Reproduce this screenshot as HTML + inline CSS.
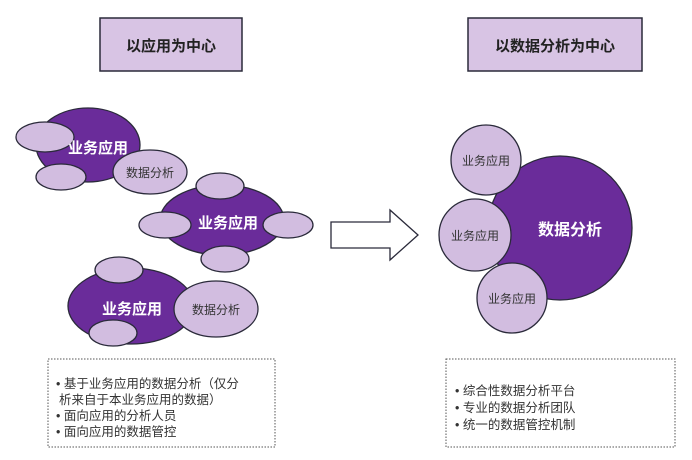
<!DOCTYPE html>
<html><head><meta charset="utf-8"><style>
body{margin:0;background:#fff;}
svg{display:block;font-family:"Liberation Sans","Noto Sans CJK SC",sans-serif;}
</style></head><body>
<svg width="692" height="460" viewBox="0 0 692 460">
<g stroke="#2a2a3a" stroke-width="1.5">
<rect x="100" y="18" width="142" height="53" fill="#d8c4e4"/>
<rect x="468" y="18" width="174" height="53" fill="#d8c4e4"/>
</g>
<text x="171" y="51" font-size="15" font-weight="bold" text-anchor="middle" fill="#222">以应用为中心</text>
<text x="555" y="51" font-size="15" font-weight="bold" text-anchor="middle" fill="#222">以数据分析为中心</text>
<g stroke="#2a2a3a" stroke-width="1.3">
<ellipse cx="88" cy="145" rx="52" ry="37" fill="#6a2c9a"/>
<ellipse cx="45" cy="137" rx="29" ry="15" fill="#d2bde0"/>
<ellipse cx="61" cy="177" rx="25" ry="13" fill="#d2bde0"/>
<ellipse cx="150" cy="172" rx="37" ry="22" fill="#d2bde0"/>
<ellipse cx="222" cy="220" rx="62" ry="35" fill="#6a2c9a"/>
<ellipse cx="220" cy="186" rx="24" ry="13" fill="#d2bde0"/>
<ellipse cx="165" cy="225" rx="26" ry="13" fill="#d2bde0"/>
<ellipse cx="288" cy="225" rx="25" ry="13" fill="#d2bde0"/>
<ellipse cx="225" cy="259" rx="24" ry="13" fill="#d2bde0"/>
<ellipse cx="131" cy="306" rx="63" ry="38" fill="#6a2c9a"/>
<ellipse cx="119" cy="270" rx="24" ry="13" fill="#d2bde0"/>
<ellipse cx="113" cy="333" rx="24" ry="13" fill="#d2bde0"/>
<ellipse cx="216" cy="309" rx="42" ry="28" fill="#d2bde0"/>
<circle cx="560" cy="228" r="72" fill="#6a2c9a"/>
<circle cx="486" cy="160" r="35" fill="#d2bde0"/>
<circle cx="475" cy="235" r="36" fill="#d2bde0"/>
<circle cx="512" cy="298" r="35" fill="#d2bde0"/>
<path d="M331 222 H390 V210 L418 235 L390 260 V248 H331 Z" fill="#fff"/>
</g>
<g font-size="15" font-weight="bold" fill="#fff" text-anchor="middle">
<text x="98" y="153">业务应用</text>
<text x="228" y="228">业务应用</text>
<text x="132" y="314">业务应用</text>
<text x="570" y="235" font-size="16">数据分析</text>
</g>
<g font-size="12" fill="#333" text-anchor="middle">
<text x="150" y="177">数据分析</text>
<text x="216" y="314">数据分析</text>
<text x="486" y="165">业务应用</text>
<text x="475" y="240">业务应用</text>
<text x="512" y="303">业务应用</text>
</g>
<g fill="none" stroke="#555" stroke-width="1" stroke-dasharray="1.5,1.5">
<rect x="48" y="359" width="227" height="88"/>
<rect x="446" y="359" width="229" height="88"/>
</g>
<g font-size="12.5" fill="#333">
<text x="56" y="388">• 基于业务应用的数据分析（仅分</text>
<text x="59" y="404">析来自于本业务应用的数据）</text>
<text x="56" y="420">• 面向应用的分析人员</text>
<text x="56" y="436">• 面向应用的数据管控</text>
<text x="455" y="395">• 综合性数据分析平台</text>
<text x="455" y="412">• 专业的数据分析团队</text>
<text x="455" y="429">• 统一的数据管控机制</text>
</g>
</svg>
</body></html>
